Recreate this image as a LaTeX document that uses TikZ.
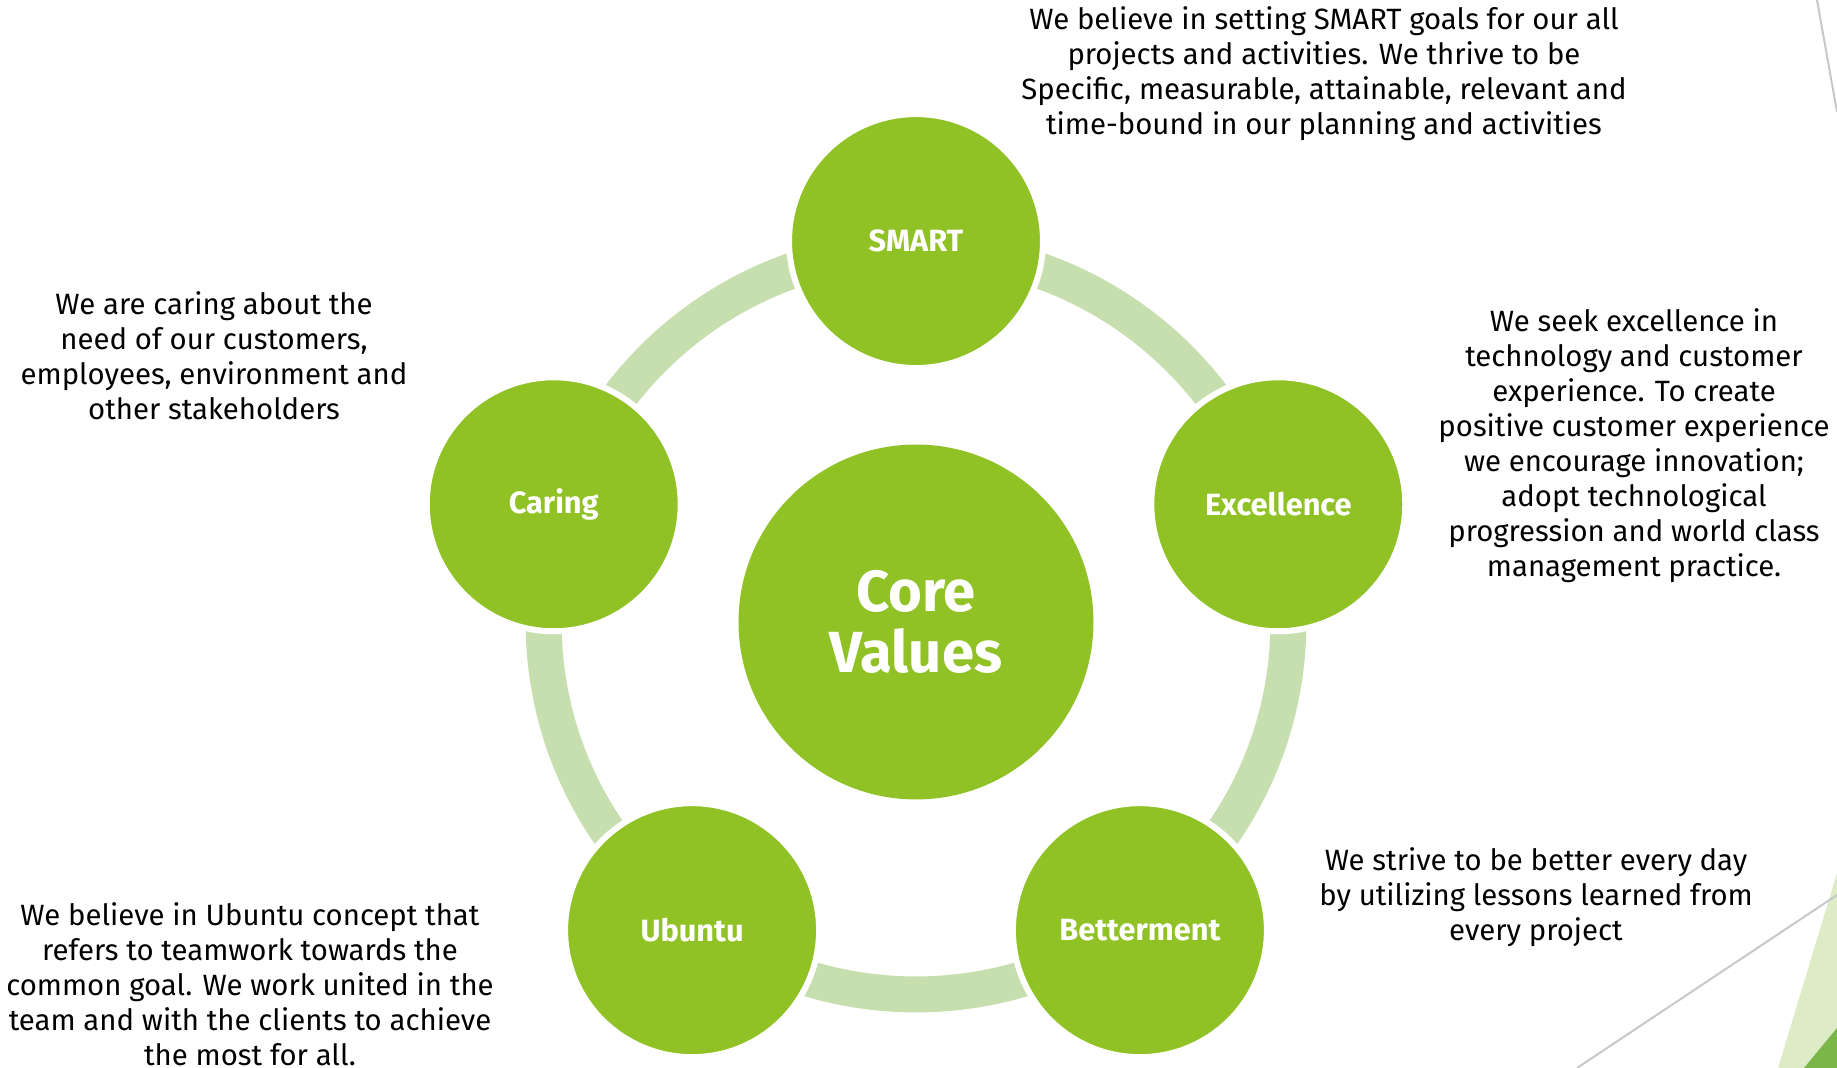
\documentclass[tikz,border=0pt]{standalone}
\usepackage{fontspec}
\setmainfont{Fira Sans}
\definecolor{leaf}{HTML}{90C226}
\definecolor{band}{HTML}{C7DFAF}
\definecolor{paleleaf}{HTML}{DDEBC6}
\definecolor{deepleaf}{HTML}{7AB648}
\definecolor{rule}{HTML}{C8C8C8}

\begin{document}
\begin{tikzpicture}[x=0.02cm,y=0.02cm,
	bubble/.style={circle,fill=leaf,draw=white,line width=0.12cm,minimum size=5.08cm,inner sep=0,text=white,font=\fontsize{17.5}{20}\selectfont\bfseries},
	note/.style={align=center,inner sep=0,font=\fontsize{16.7}{19.9}\selectfont}]
	\useasboundingbox (0,0) rectangle (1837,1068);
	% corner
	\fill[paleleaf] (1778,0) -- (1837,195) -- (1837,0) -- cycle;
	\fill[deepleaf] (1804,0) -- (1837,40) -- (1837,0) -- cycle;
	\draw[rule,line width=0.04cm] (1577,0) -- (1837,173);
	\draw[rule,line width=0.04cm] (1817,1068) -- (1837,956);

	\node[circle,fill=leaf,minimum size=7.1cm,inner sep=0,text=white,align=center,font=\fontsize{33}{34.5}\selectfont\bfseries] (core) at (916,446) {Core\\Values};
	\draw[band,line width=0.72cm] (core.center) circle (7.45cm);
	\foreach \lbl/\ang [count=\n] in {SMART/90,Excellence/18,Betterment/-54,Ubuntu/-126,Caring/162}
		\node[bubble] (V\n) at ([shift={(\ang:7.62cm)}]core.center) {\lbl};

	\node[note] (smartnote) at (1324,994) {We believe in setting SMART goals for our all\\projects and activities. We thrive to be\\Specific, measurable, attainable, relevant and\\time-bound in our planning and activities};
	\node[note] (excnote) at (1634,622) {We seek excellence in\\technology and customer\\experience. To create\\positive customer experience\\we encourage innovation;\\adopt technological\\progression and world class\\management practice.};
	\node[note] (betnote) at (1536,171) {We strive to be better every day\\by utilizing lessons learned from\\every project};
	\node[note] (ubunote) at (250,84) {We believe in Ubuntu concept that\\refers to teamwork towards the\\common goal. We work united in the\\team and with the clients to achieve\\the most for all.};
	\node[note] (carnote) at (214,712) {We are caring about the\\need of our customers,\\employees, environment and\\other stakeholders};
\end{tikzpicture}
\end{document}
